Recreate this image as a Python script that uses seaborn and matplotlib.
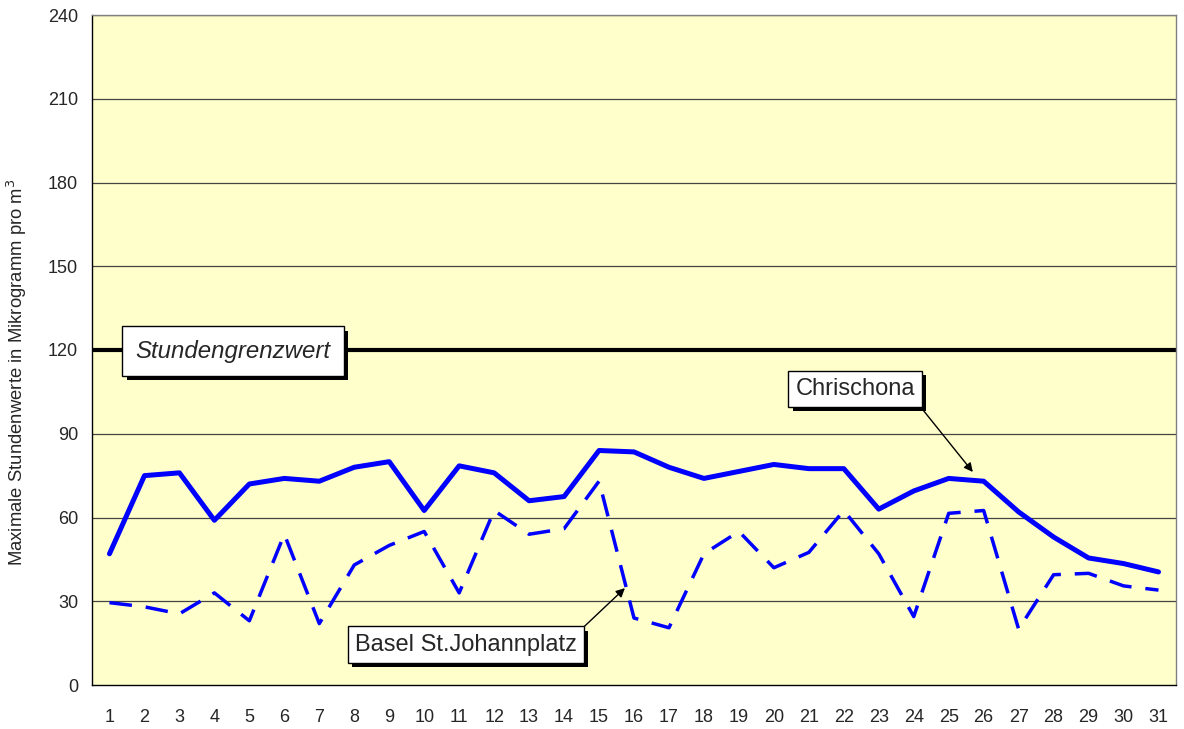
import matplotlib
matplotlib.use("Agg")
import matplotlib.pyplot as plt
import matplotlib.patheffects as pe
import seaborn as sns
import pandas as pd
import numpy as np

days = list(range(1, 32))
chrischona = [47, 75, 76, 59, 72, 74, 73, 78, 80, 62.5, 78.5, 76, 66, 67.5, 84, 83.5,
              78, 74, 76.5, 79, 77.5, 77.5, 63, 69.5, 74, 73, 62, 53, 45.5, 43.5, 40.5]
basel = [29.5, 28, 25.5, 33, 23, 54, 22, 43, 50, 55, 33, 62.5, 54, 56, 73, 24,
         20.5, 47, 55, 42, 47.5, 62.5, 47, 24.5, 61.5, 62.5, 20, 39.5, 40, 35.5, 34]
limit_value = 120
yticks = [0, 30, 60, 90, 120, 150, 180, 210, 240]

sns.set_style("white")
plt.rcParams['font.family'] = ['Liberation Sans', 'DejaVu Sans']

df = pd.DataFrame({"Tag": days, "Chrischona": chrischona, "Basel": basel})

fig = plt.figure(figsize=(11.84, 7.29), dpi=100)
ax = fig.add_axes([92/1184, 44/729, 1084/1184, 670/729])
ax.set_facecolor("#FFFFCC")

for y in yticks[1:]:
    ax.axhline(y, color="#444444", lw=0.9, zorder=1)
ax.axhline(limit_value, color="black", lw=3, zorder=2)

sns.lineplot(data=df, x="Tag", y="Chrischona", ax=ax, color="#0000FF", lw=3.6, zorder=4)
sns.lineplot(data=df, x="Tag", y="Basel", ax=ax, color="#0000FF", lw=2.5, zorder=3,
             linestyle=(0, (6.5, 4)))

ax.set_xlim(0.5, 31.5)
ax.set_ylim(0, 240)
ax.set_yticks(yticks)
ax.set_yticklabels([str(v) for v in yticks], fontsize=13)
ax.set_xticks(days)
ax.set_xticklabels([str(d) for d in days], fontsize=13)
ax.set_xticks(np.arange(0.5, 32, 1), minor=True)
ax.tick_params(axis="x", which="major", length=0, pad=17)
ax.tick_params(axis="x", which="minor", length=5, width=1, color="black", direction="out")
ax.tick_params(axis="y", which="major", length=5, width=1, color="black", direction="out", pad=5)
ax.set_xlabel("")
ax.set_ylabel("Maximale Stundenwerte in Mikrogramm pro m$^3$", fontsize=13.3)
ax.yaxis.set_label_coords(-0.058, 0.467)

for s in ["left", "bottom"]:
    ax.spines[s].set_color("black")
    ax.spines[s].set_linewidth(1)
for s in ["top", "right"]:
    ax.spines[s].set_color("#808080")
    ax.spines[s].set_linewidth(1)

shadow = [pe.withSimplePatchShadow(offset=(3, -3), shadow_rgbFace="black", alpha=1.0)]

# Stundengrenzwert label box with shadow
t1 = ax.text(1.75, limit_value - 0.4, "Stundengrenzwert", fontsize=17.3, style="italic",
             va="center", ha="left", zorder=6,
             bbox=dict(boxstyle="square,pad=0.55", fc="white", ec="black", lw=1))
t1.get_bbox_patch().set_path_effects(shadow)

# Chrischona annotation
a1 = ax.annotate("Chrischona", xy=(25.69, 76.3), xytext=(20.62, 106), fontsize=17,
                 ha="left", va="center", zorder=7,
                 bbox=dict(boxstyle="square,pad=0.3", fc="white", ec="black", lw=1),
                 arrowprops=dict(arrowstyle="-|>", color="black", lw=1, mutation_scale=13,
                                 shrinkA=0, shrinkB=0, relpos=(1, 0)))
a1.get_bbox_patch().set_path_effects(shadow)

# Basel annotation
a2 = ax.annotate("Basel St.Johannplatz", xy=(15.74, 34.7), xytext=(8.02, 14.5), fontsize=17,
                 ha="left", va="center", zorder=7,
                 bbox=dict(boxstyle="square,pad=0.3", fc="white", ec="black", lw=1),
                 arrowprops=dict(arrowstyle="-|>", color="black", lw=1, mutation_scale=13,
                                 shrinkA=0, shrinkB=0, relpos=(1, 1)))
a2.get_bbox_patch().set_path_effects(shadow)

fig.savefig("out.png", dpi=100, facecolor="white")
